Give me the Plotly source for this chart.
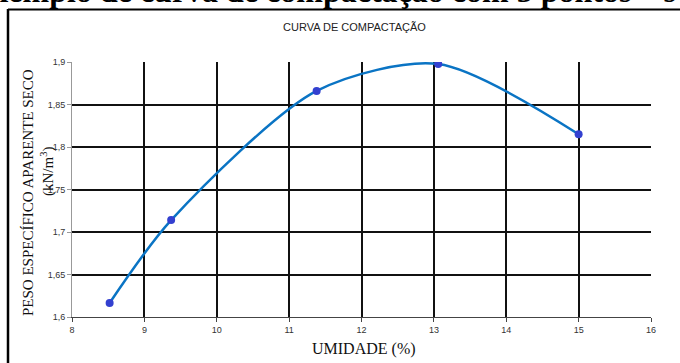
import plotly.graph_objects as go

umidade = [8.52, 9.37, 11.38, 13.06, 15.0]
peso = [1.6165, 1.714, 1.866, 1.8976, 1.815]

x_ticks = [8, 9, 10, 11, 12, 13, 14, 15, 16]
y_ticks = [1.6, 1.65, 1.7, 1.75, 1.8, 1.85, 1.9]
y_ticklabels = ["1,6", "1,65", "1,7", "1,75", "1,8", "1,85", "1,9"]

W, H = 680, 363
L, R, T, B = 72, 29, 62, 46
pw, ph = W - L - R, H - T - B

def px(x):
    return (x - L) / pw

def py(y):
    return (H - B - y) / ph

fig = go.Figure()
fig.add_trace(go.Scatter(
    x=umidade, y=peso, mode="lines",
    line=dict(color="#0a74c4", width=2.5, shape="spline", smoothing=0.8),
    hoverinfo="skip", showlegend=False))
fig.add_trace(go.Scatter(
    x=umidade, y=peso, mode="markers",
    marker=dict(color="#3340d0", size=8),
    showlegend=False))

fig.update_layout(
    width=W, height=H,
    margin=dict(l=L, r=R, t=T, b=B),
    paper_bgcolor="white", plot_bgcolor="white",
    xaxis=dict(range=[8, 16], tickvals=x_ticks, showgrid=True, gridcolor="#111",
               gridwidth=1.5, showline=True, linecolor="#444", linewidth=1,
               ticks="outside", ticklen=4, tickcolor="#444",
               tickfont=dict(family="Liberation Sans, Arial", size=9, color="#333"),
               zeroline=False, fixedrange=True),
    yaxis=dict(range=[1.6, 1.9], tickvals=y_ticks, ticktext=y_ticklabels,
               showgrid=True, gridcolor="#111", gridwidth=1.5,
               showline=True, linecolor="#999", linewidth=1,
               ticks="outside", ticklen=4, tickcolor="#999",
               tickfont=dict(family="Liberation Sans, Arial", size=9, color="#333"),
               zeroline=False, fixedrange=True),
    font=dict(family="Liberation Serif, Times New Roman", color="black"),
)

anns = [
    dict(text="<b>Exemplo de curva de compactação com 5 pontos – s</b>",
         x=px(-31), y=py(10.8), xanchor="left", yanchor="bottom",
         font=dict(family="Liberation Serif", size=32, color="black")),
    dict(text="CURVA DE COMPACTAÇÃO", x=px(354), y=py(27), xanchor="center", yanchor="middle",
         font=dict(family="Liberation Sans, Arial", size=11, color="#222")),
    dict(text="PESO ESPECÍFICO APARENTE SECO", x=px(28), y=py(193), xanchor="center", yanchor="middle",
         textangle=-90, font=dict(family="Liberation Serif", size=15, color="#111")),
    dict(text="(kN/m<sup>3</sup>)", x=px(47), y=py(172), xanchor="center", yanchor="middle",
         textangle=-90, font=dict(family="Liberation Serif", size=15, color="#111")),
    dict(text="UMIDADE (%)", x=px(364), y=py(349), xanchor="center", yanchor="middle",
         font=dict(family="Liberation Serif", size=16, color="#111")),
]
for a in anns:
    a.update(xref="paper", yref="paper", showarrow=False)
    fig.add_annotation(**a)

fig.add_shape(type="line", xref="paper", yref="paper", x0=px(8), x1=px(8), y0=py(9), y1=py(400),
              line=dict(color="black", width=2.5))
fig.add_shape(type="line", xref="paper", yref="paper", x0=px(8), x1=px(700), y0=py(9.5), y1=py(9.5),
              line=dict(color="black", width=2))

fig.write_html("out.html")
